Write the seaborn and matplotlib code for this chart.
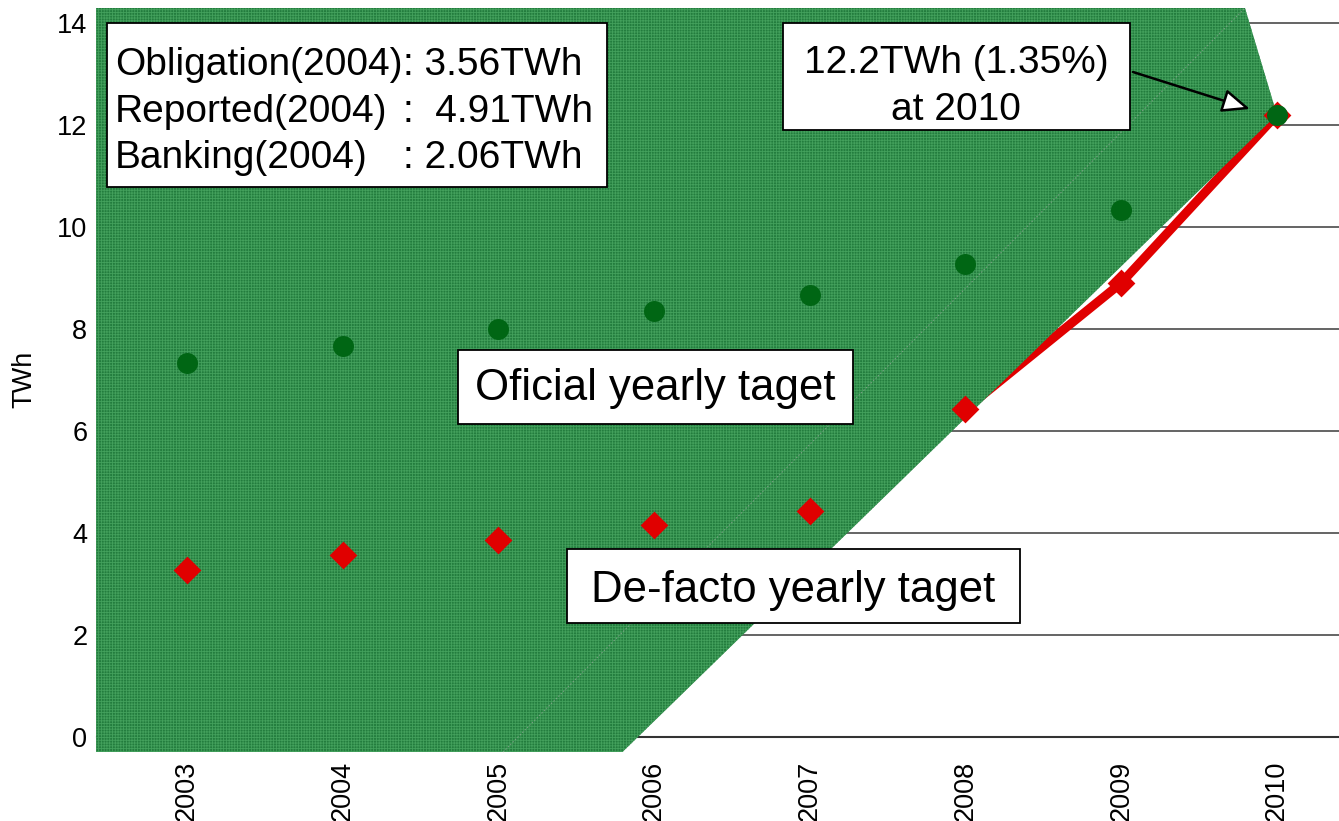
import numpy as np
import pandas as pd
import matplotlib
matplotlib.use("Agg")
import matplotlib.pyplot as plt
import seaborn as sns
from matplotlib import font_manager
from matplotlib.patches import Polygon, Rectangle

# ---- data -------------------------------------------------------------
years = ["2003", "2004", "2005", "2006", "2007", "2008", "2009", "2010"]
official_target = [7.33, 7.67, 8.00, 8.35, 8.67, 9.27, 10.33, 12.2]
defacto_target = [3.27, 3.57, 3.86, 4.16, 4.43, 6.43, 8.90, 12.2]
y_ticks = [0, 2, 4, 6, 8, 10, 12, 14]

info_labels = ["Obligation(2004)", "Reported(2004)", "Banking(2004)"]
info_values = [": 3.56TWh", ":  4.91TWh", ": 2.06TWh"]
goal_text = ["12.2TWh (1.35%)", "at 2010"]
official_label = "Oficial yearly taget"
defacto_label = "De-facto yearly taget"

# ---- fonts ------------------------------------------------------------
sns.set_style("white")
installed = {f.name for f in font_manager.fontManager.ttflist}
if "Liberation Sans Narrow" in installed:
    FONT, SCALE = "Liberation Sans Narrow", 1.2
else:
    FONT, SCALE = "Liberation Sans", 1.0
plt.rcParams["font.family"] = [FONT, "DejaVu Sans"]
plt.rcParams["text.color"] = "black"
plt.rcParams["axes.labelcolor"] = "black"
plt.rcParams["xtick.color"] = "black"
plt.rcParams["ytick.color"] = "black"
plt.rcParams["hatch.linewidth"] = 0.6

INFO_FS = 28 * SCALE      # info and goal boxes
LABEL_FS = 31.5 * SCALE   # series name boxes
TICK_FS = 19.5 * SCALE

df = pd.DataFrame({
    "year": years,
    "pos": np.arange(len(years)),
    "official": official_target,
    "defacto": defacto_target,
})

W, H = 1339, 821
fig = plt.figure(figsize=(W / 100, H / 100), dpi=100)
ax = fig.add_axes([97 / W, 84 / H, 1242 / W, 729 / H])

XLIM = (-0.578, 7.399)
YLIM = (0, 14.29)
ax.set_xlim(*XLIM)
ax.set_ylim(*YLIM)

# ---- shaded "official" region -----------------------------------------
y_base = -0.294                 # region runs slightly below the axis line
top_corner_x = 6.795
base_corner_x = 2.797
left_x = XLIM[0] - 0.006
apex = (df["pos"].iloc[-1], df["official"].iloc[-1])
region = [
    (left_x, YLIM[1]),
    (top_corner_x, YLIM[1]),
    apex,
    (base_corner_x, y_base),
    (left_x, y_base),
]
ax.add_patch(Polygon(region, closed=True, facecolor="#237d3e",
                     edgecolor="none", zorder=3, clip_on=False))
ax.add_patch(Polygon(region, closed=True, fill=False, hatch="++++++",
                     edgecolor="#43a05c", linewidth=0, zorder=3.1,
                     clip_on=False))
# faint dotted guide inside the region
ax.plot([2.03, top_corner_x], [y_base, YLIM[1]], ls=(0, (1.5, 2)),
        color="#8fa795", lw=0.7, alpha=0.8, zorder=3.2, clip_on=False)

# ---- de-facto path 2008-2010 -----------------------------------------
late = df[df["pos"] >= 5]
sns.lineplot(data=late, x="pos", y="defacto", color="#e00000", lw=6.5,
             ax=ax, zorder=2, legend=False)

# ---- markers ----------------------------------------------------------
sns.scatterplot(data=df, x="pos", y="defacto", marker="D", s=200,
                color="#e00000", linewidth=0, ax=ax, zorder=4, legend=False)
sns.scatterplot(data=df, x="pos", y="official", marker="o", s=228,
                color="#006614", linewidth=0, ax=ax, zorder=5, legend=False)

# ---- axes styling -----------------------------------------------------
for side in ("left", "top", "right"):
    ax.spines[side].set_visible(False)
ax.spines["bottom"].set_color("#333333")
ax.spines["bottom"].set_linewidth(1.5)

ax.set_axisbelow(True)
ax.yaxis.grid(True, color="#3a3a3a", lw=1.1)
ax.xaxis.grid(False)

ax.set_yticks(y_ticks)
ax.set_yticklabels([str(t) for t in y_ticks])
ax.tick_params(axis="y", length=0, pad=7, labelsize=TICK_FS)

ax.set_xticks(df["pos"])
ax.set_xticklabels(df["year"], rotation=90, va="top", ha="center")
ax.tick_params(axis="x", which="major", length=0, pad=17, labelsize=TICK_FS)
ax.set_xticks(df["pos"][:-1] + 0.5, minor=True)
ax.tick_params(axis="x", which="minor", direction="in", length=6,
               width=1.2, color="#333333")

ax.set_xlabel("")
ax.set_ylabel("TWh", fontsize=TICK_FS)
ax.yaxis.set_label_coords(-0.048, 0.49)


# ---- text boxes (pixel layout from the top-left corner) ---------------
def fx(px):
    return px / W


def fy(py):
    return 1 - py / H


def box(x0, y0, x1, y1):
    fig.add_artist(Rectangle((fx(x0), fy(y1)), fx(x1) - fx(x0),
                             fy(y0) - fy(y1), transform=fig.transFigure,
                             facecolor="white", edgecolor="black",
                             linewidth=1.3, zorder=6))


box(107, 23, 607, 187)
for lab, val, base in zip(info_labels, info_values, [75, 122, 168]):
    fig.text(fx(115), fy(base), lab, fontsize=INFO_FS, va="baseline",
             ha="left", zorder=7)
    fig.text(fx(403), fy(base), val, fontsize=INFO_FS, va="baseline",
             ha="left", zorder=7)

box(783, 23, 1130, 130)
for line, base in zip(goal_text, [73, 120]):
    fig.text(fx(956), fy(base), line, fontsize=INFO_FS, va="baseline",
             ha="center", zorder=7)

box(458, 350, 853, 424)
fig.text(fx(655), fy(400), official_label, fontsize=LABEL_FS,
         va="baseline", ha="center", zorder=7)

box(567, 549, 1020, 623)
fig.text(fx(793), fy(602), defacto_label, fontsize=LABEL_FS,
         va="baseline", ha="center", zorder=7)

# arrow from the goal box to the 2010 point
ax.annotate("", xy=(fx(1250), fy(109)), xytext=(fx(1133), fy(72)),
            xycoords="figure fraction", textcoords="figure fraction",
            arrowprops=dict(arrowstyle="-|>,head_length=0.85,head_width=0.36",
                            mutation_scale=20, fc="white", ec="black",
                            lw=1.8, shrinkA=0, shrinkB=0),
            zorder=6)

fig.savefig("out.png", dpi=100)
